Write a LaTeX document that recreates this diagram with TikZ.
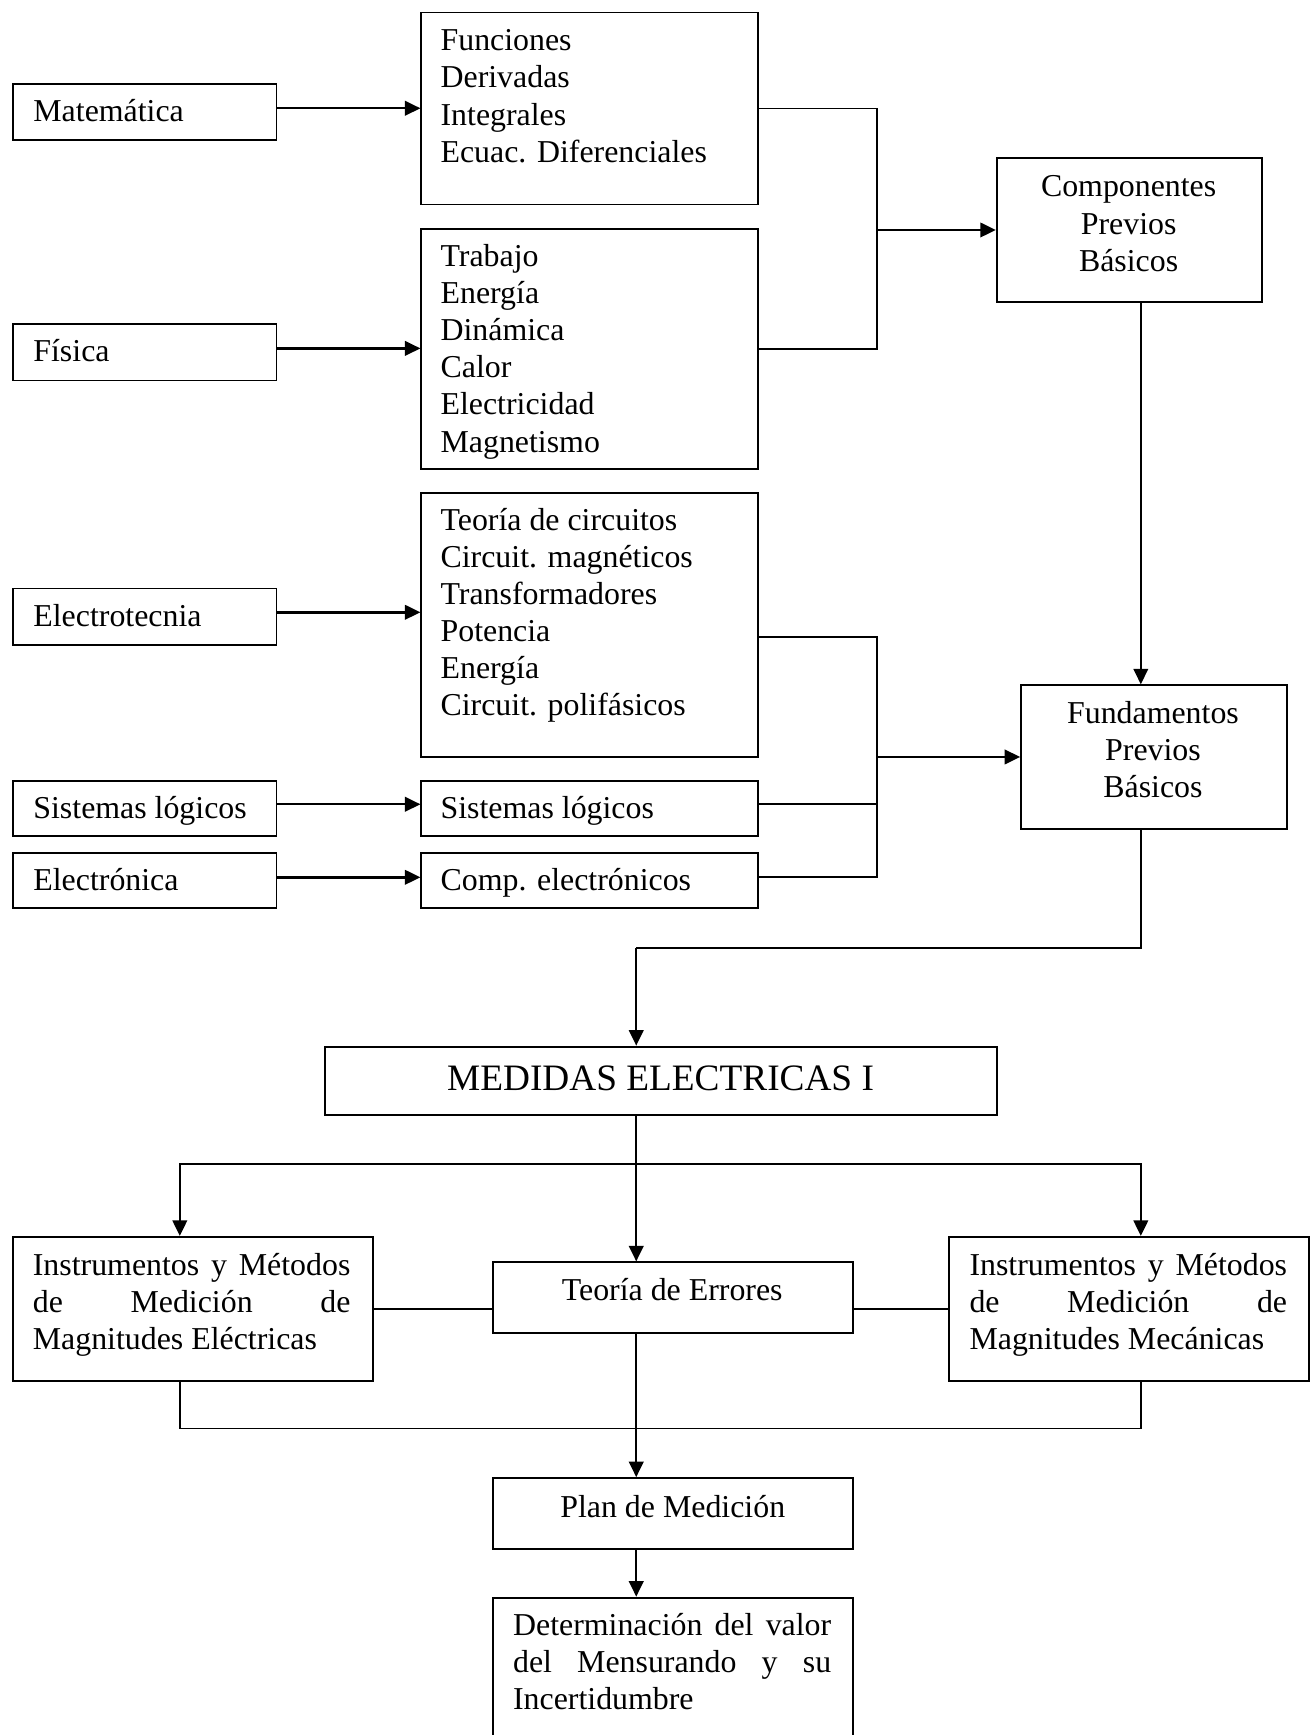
\documentclass[tikz,border=0pt]{standalone}
\usepackage{fontspec}
\setmainfont{Liberation Serif}
\usetikzlibrary{arrows.meta}
\begin{document}
\begin{tikzpicture}[x=1pt,y=-1pt,
  box/.style={draw, line width=1.7pt, inner sep=0pt, anchor=north west},
  txt/.style={inner sep=0pt, anchor=base west, font=\fontsize{28.8}{33.5}\selectfont},
  ctxt/.style={inner sep=0pt, anchor=base, font=\fontsize{28.8}{33.5}\selectfont},
  arr/.style={line width=2.2pt, -{Triangle[length=14pt,width=13pt]}},
  ln/.style={line width=1.6pt},
]
\fill[white] (0,0) rectangle (1188,1568);
\useasboundingbox (0,0) rectangle (1188,1568);

% ---------- left column ----------
\node[box, minimum width=238pt, minimum height=51pt] (mat) at (11,75) {};
\node[box, minimum width=238pt, minimum height=51pt] (fis) at (11,292) {};
\node[box, minimum width=238pt, minimum height=51pt] (ele) at (11,531) {};
\node[box, minimum width=238pt, minimum height=50pt] (sla) at (11,705) {};
\node[box, minimum width=238pt, minimum height=50pt] (etr) at (11,770) {};
\node[txt] (matT) at (30,110) {Matemática};
\node[txt] (fisT) at (30,327) {Física};
\node[txt] (eleT) at (30,566.5) {Electrotecnia};
\node[txt] (slaT) at (30,740) {Sistemas lógicos};
\node[txt] (etrT) at (30,805) {Electrónica};

% ---------- middle column ----------
\node[box, minimum width=304pt, minimum height=173.5pt] (fun) at (380,10.5) {};
\node[box, minimum width=304pt, minimum height=217pt] (tra) at (380,206) {};
\node[box, minimum width=304pt, minimum height=238pt] (teo) at (380,445) {};
\node[box, minimum width=304pt, minimum height=50pt] (slb) at (380,705) {};
\node[box, minimum width=304pt, minimum height=50pt] (cmp) at (380,770) {};
\node[txt] (funT) at (398,46) {\parbox[t]{300pt}{\raggedright Funciones\\Derivadas\\Integrales\\Ecuac. Diferenciales}};
\node[txt] (traT) at (398,241) {\parbox[t]{300pt}{\raggedright Trabajo\\Energía\\Dinámica\\Calor\\Electricidad\\Magnetismo}};
\node[txt] (teoT) at (398,479) {\parbox[t]{300pt}{\raggedright Teoría de circuitos\\Circuit. magnéticos\\Transformadores\\Potencia\\Energía\\Circuit. polifásicos}};
\node[txt] (slbT) at (398,740) {Sistemas lógicos};
\node[txt] (cmpT) at (398,805) {Comp. electrónicos};

% ---------- right column ----------
\node[box, minimum width=240pt, minimum height=130pt] (comp) at (900,142) {};
\node[ctxt] (compT) at (1020,178) {\parbox[t]{230pt}{\centering Componentes\\Previos\\Básicos}};
\node[box, minimum width=240pt, minimum height=129.5pt] (fund) at (922,618.5) {};
\node[ctxt] (fundT) at (1042,654) {\parbox[t]{230pt}{\centering Fundamentos\\Previos\\Básicos}};

% ---------- lower part ----------
\node[box, minimum width=607pt, minimum height=62pt] (med) at (293,945) {};
\node[ctxt, font=\fontsize{33.7}{38}\selectfont] (medT) at (597,985.5) {MEDIDAS ELECTRICAS I};

\node[box, minimum width=325pt, minimum height=130pt] (lb) at (11,1117) {};
\node[txt] (lbT) at (29.5,1153) {\parbox[t]{287pt}{\hyphenpenalty=10000 Instrumentos y Métodos\linebreak de Medición de\linebreak Magnitudes Eléctricas}};
\node[box, minimum width=325pt, minimum height=64pt] (err) at (445,1140) {};
\node[ctxt] (errT) at (607.5,1175.5) {Teoría de Errores};
\node[box, minimum width=325pt, minimum height=130pt] (rb) at (857,1117) {};
\node[txt] (rbT) at (876,1153) {\parbox[t]{287pt}{\hyphenpenalty=10000 Instrumentos y Métodos\linebreak de Medición de\linebreak Magnitudes Mecánicas}};

\node[box, minimum width=325pt, minimum height=64pt] (plan) at (445,1335) {};
\node[ctxt] (planT) at (608,1371) {Plan de Medición};
\node[box, minimum width=325pt, minimum height=220pt] (det) at (445,1443) {};
\node[txt] (detT) at (463.5,1478) {\parbox[t]{287.5pt}{\hyphenpenalty=10000 Determinación del valor\linebreak del Mensurando y su\linebreak Incertidumbre}};

% ---------- helper coordinates ----------
\coordinate (m1) at ([yshift=3.5pt]mat.east);
\coordinate (f1) at ([yshift=3.5pt]fis.east);
\coordinate (e1) at ([yshift=4pt]ele.east);
\coordinate (s1) at ([yshift=4pt]sla.east);
\coordinate (r1) at ([yshift=3pt]etr.east);
\coordinate (t1) at ([yshift=-10.7pt]teo.east);
\coordinate (s2) at ([yshift=4pt]slb.east);
\coordinate (c2) at ([yshift=3pt]cmp.east);
\coordinate (bus1) at (792.5,0 |- comp.west);
\coordinate (bus2) at (792.5,0 |- fund.west);
\coordinate (xr) at (1031,0);
\coordinate (xl) at (162.5,0);
\coordinate (k1) at (575,856.5);
\coordinate (h1) at (575,1052);
\coordinate (hb) at (575,1291);

% ---------- connectors ----------
\draw[arr] (m1) -- (m1 -| fun.west);
\draw[arr] (f1) -- (f1 -| tra.west);
\draw[arr] (e1) -- (e1 -| teo.west);
\draw[arr] (s1) -- (s1 -| slb.west);
\draw[arr] (r1) -- (r1 -| cmp.west);

\draw[ln] (fun.east) -| (bus1) |- (tra.east);
\draw[arr] (bus1) -- (comp.west);

\draw[ln] (t1) -| (bus2) |- (c2);
\draw[ln] (s2) -- (s2 -| bus2);
\draw[arr] (bus2) -- (fund.west);

\draw[arr] (comp.south -| xr) -- (fund.north -| xr);

\draw[ln] (fund.south -| xr) |- (k1);
\draw[arr] (k1) -- (med.north -| k1);

\draw[ln] (med.south -| h1) -- (h1);
\draw[arr] (h1) -- (err.north -| h1);
\draw[arr] (h1) -| (lb.north -| xl);
\draw[arr] (h1) -| (rb.north -| xr);

\draw[ln] (lb.east) -- (lb.east -| err.west);
\draw[ln] (rb.west) -- (rb.west -| err.east);

\draw[ln] (lb.south -| xl) |- (hb) -| (rb.south -| xr);
\draw[ln] (err.south -| hb) -- (hb);
\draw[arr] (hb) -- (plan.north -| hb);
\draw[arr] (plan.south -| hb) -- (det.north -| hb);
\end{tikzpicture}
\end{document}
